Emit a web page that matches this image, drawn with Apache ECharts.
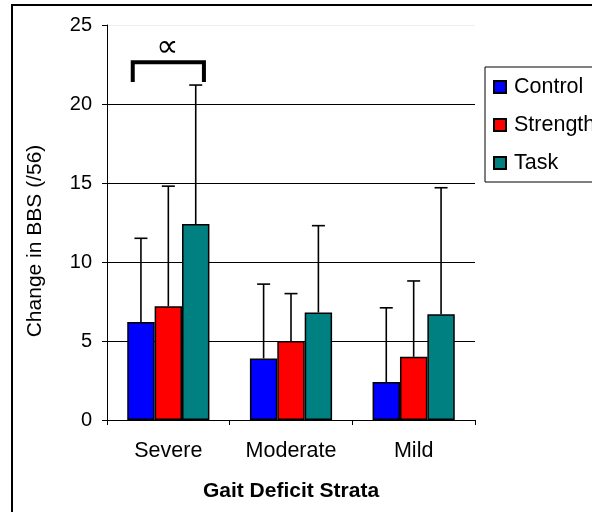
<!DOCTYPE html>
<html>
<head>
<meta charset="utf-8">
<script src="https://cdn.jsdelivr.net/npm/echarts@6/dist/echarts.min.js"></script>
<style>html,body{margin:0;padding:0;background:#fff}#c{width:592px;height:512px}</style>
</head>
<body>
<div id="c"></div>
<script>
// ---- data ----
const categories = ['Severe', 'Moderate', 'Mild'];
const seriesNames = ['Control', 'Strength', 'Task'];
const controlMean = [6.2, 3.9, 2.4];
const controlSD   = [5.3, 4.7, 4.7];
const strengthMean = [7.2, 5.0, 4.0];
const strengthSD   = [7.6, 3.0, 4.8];
const taskMean = [12.4, 6.8, 6.7];
const taskSD   = [8.8, 5.5, 8.0];
const yTicks = [0, 5, 10, 15, 20, 25];
// significance bracket: [category index, bracket top, leg bottom, symbol level]
const bracket = [[0, 22.65, 21.4, 23.55]];
const bracketSymbol = '\u221D';

const colors = ['#0000FF', '#FF0000', '#008080'];
const means = [controlMean, strengthMean, taskMean];
const sds = [controlSD, strengthSD, taskSD];
const CAT_GAP = 0.33;
const FONT = '"Liberation Sans", Arial, sans-serif';

const chart = echarts.init(document.getElementById('c'), null, {renderer: 'canvas'});

const barSeries = seriesNames.map((n, k) => ({
  name: n,
  type: 'bar',
  data: means[k],
  barGap: '0%',
  barCategoryGap: (CAT_GAP * 100) + '%',
  itemStyle: {color: colors[k], borderColor: '#000', borderWidth: 1.5},
  z: 2
}));

const errSeries = seriesNames.map((n, k) => ({
  name: n + ' SD',
  type: 'custom',
  z: 3,
  data: means[k].map((m, i) => [i, m, m + sds[k][i]]),
  encode: {x: 0, y: [1, 2]},
  renderItem: function (params, api) {
    const catW = api.size([1, 0])[0];
    const bw = catW * (1 - CAT_GAP) / 3;
    const p0 = api.coord([api.value(0), api.value(1)]);
    const p1 = api.coord([api.value(0), api.value(2)]);
    const cx = p0[0] + (k - 1) * bw;
    const cap = 6.5;
    const st = {stroke: '#000', lineWidth: 1.6};
    return {type: 'group', children: [
      {type: 'line', shape: {x1: cx, y1: p0[1], x2: cx, y2: p1[1]}, style: st},
      {type: 'line', shape: {x1: cx - cap, y1: p1[1], x2: cx + cap, y2: p1[1]}, style: st}
    ]};
  }
}));

const bracketSeries = {
  name: 'bracket',
  type: 'custom',
  z: 4,
  data: bracket,
  encode: {x: 0, y: [1, 2, 3]},
  renderItem: function (params, api) {
    const catW = api.size([1, 0])[0];
    const half = catW * (1 - CAT_GAP) / 2 - 5.5;
    const pt = api.coord([api.value(0), api.value(1)]);
    const pb = api.coord([api.value(0), api.value(2)]);
    const ps = api.coord([api.value(0), api.value(3)]);
    const cx = pt[0];
    return {type: 'group', children: [
      {type: 'polyline', shape: {points: [[cx - half, pb[1]], [cx - half, pt[1]], [cx + half, pt[1]], [cx + half, pb[1]]]},
       style: {stroke: '#000', lineWidth: 4, fill: null, lineJoin: 'miter'}},
      {type: 'text', x: cx - 1, y: ps[1], style: {text: bracketSymbol, fill: '#000', font: '31px "DejaVu Sans", sans-serif', textAlign: 'center', textVerticalAlign: 'middle'}}
    ]};
  }
};

const option = {
  animation: false,
  backgroundColor: '#fff',
  grid: {left: 107, right: 117, top: 25, bottom: 92, containLabel: false},
  legend: {
    data: seriesNames,
    orient: 'vertical',
    left: 485, top: 67,
    padding: [9, 40, 8, 8],
    itemGap: 16,
    itemWidth: 12, itemHeight: 12,
    icon: 'rect',
    borderColor: '#000', borderWidth: 1,
    textStyle: {fontSize: 21.5, color: '#000', fontFamily: FONT, padding: [0, 0, 0, 3]}
  },
  xAxis: {
    type: 'category',
    data: categories,
    axisLine: {show: true, lineStyle: {color: '#000', width: 1}},
    axisTick: {show: true, length: 5, interval: 0, alignWithLabel: false, lineStyle: {color: '#000'}},
    axisLabel: {fontSize: 21.5, color: '#000', fontFamily: FONT, margin: 20},
    name: 'Gait Deficit Strata',
    nameLocation: 'middle',
    nameGap: 61,
    nameTextStyle: {fontSize: 21, fontWeight: 'bold', color: '#000', fontFamily: FONT}
  },
  yAxis: {
    type: 'value',
    min: yTicks[0], max: yTicks[yTicks.length - 1], interval: 5,
    axisLine: {show: true, lineStyle: {color: '#000', width: 1}},
    axisTick: {show: true, length: 5, lineStyle: {color: '#000'}},
    axisLabel: {fontSize: 20, color: '#000', fontFamily: FONT, margin: 15},
    splitLine: {show: true, lineStyle: {color: ['#000', '#000', '#000', '#000', '#000', '#eeeeee'], width: 1}}
  },
  graphic: [
    {type: 'rect', shape: {x: 12, y: 5, width: 640, height: 560}, style: {fill: null, stroke: '#000', lineWidth: 2}, z: 100},
    {type: 'text', x: 35, y: 241, rotation: Math.PI / 2,
     style: {text: 'Change in BBS (/56)', fill: '#000', font: '21px ' + FONT, textAlign: 'center', textVerticalAlign: 'middle'}}
  ],
  series: [...barSeries, ...errSeries, bracketSeries]
};
chart.setOption(option);
</script>
</body>
</html>
